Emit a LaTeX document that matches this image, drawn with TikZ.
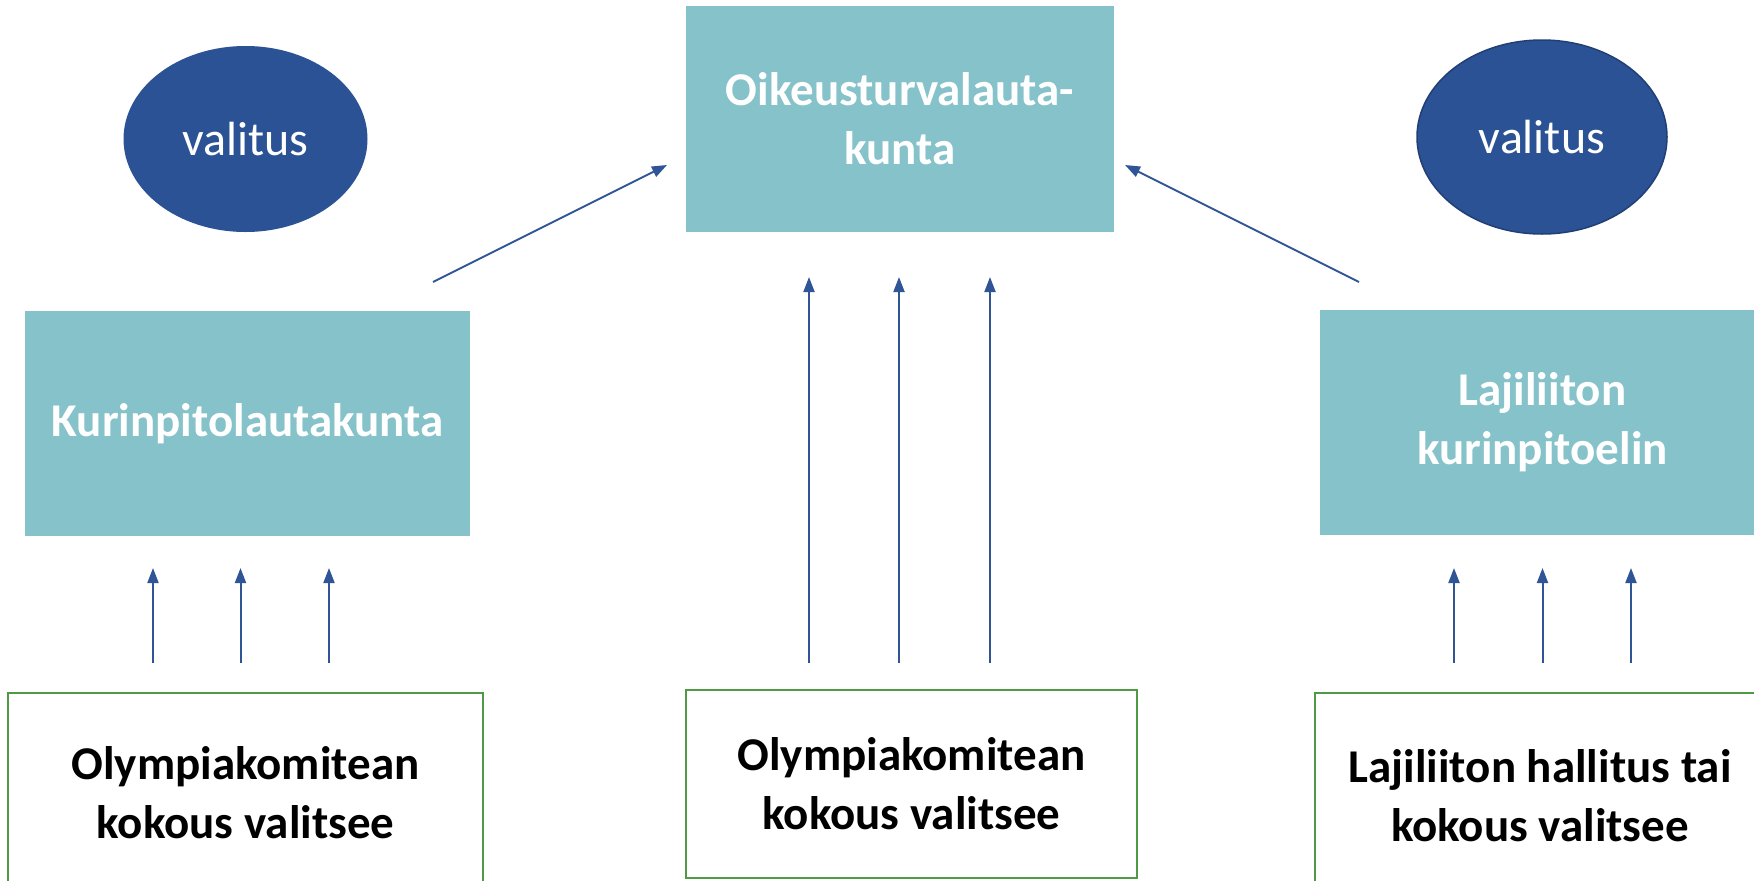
\documentclass[tikz,border=0pt]{standalone}
\usepackage{fontspec}
\setmainfont{Carlito}
\usetikzlibrary{arrows.meta,shapes.geometric}
\definecolor{darkblue}{HTML}{2A5294}
\definecolor{ellborder}{HTML}{213F74}
\definecolor{tealbox}{HTML}{86C2C9}
\definecolor{greenline}{HTML}{4E9A45}
\definecolor{arrowblue}{HTML}{2F5597}
\tikzset{
  organ/.style={rectangle, fill=tealbox, draw=none, inner sep=0pt, text=white, font=\fontsize{47}{59}\selectfont\bfseries, align=center},
  appeal/.style={ellipse, fill=darkblue, inner sep=0pt, text=white, font=\fontsize{48}{58}\selectfont},
  elector/.style={rectangle, draw=greenline, line width=2pt, fill=white, inner sep=0pt, font=\fontsize{47}{59}\selectfont\bfseries, align=center},
  conn/.style={draw=arrowblue, line width=2pt, -{Triangle[length=15pt,width=11pt]}}
}
\begin{document}
\begin{tikzpicture}[x=1pt,y=-1pt]
\useasboundingbox (0,0) rectangle (1754,881);
\clip (0,0) rectangle (1754,881);
% ellipses
\node[appeal, minimum width=244pt, minimum height=186pt] (vl) at (245.5,139) {\raisebox{-3pt}{valitus}};
\node[appeal, draw=ellborder, line width=1.5pt, minimum width=250pt, minimum height=194pt] (vr) at (1542,137) {\raisebox{-3pt}{valitus}};
% organ boxes
\node[organ, minimum width=428pt, minimum height=226pt] (otv) at (900,118.5) {Oikeusturvalauta-\\kunta};
\node[organ, minimum width=445pt, minimum height=225pt] (kpl) at (247.5,423.5) {Kurinpitolautakunta};
\node[organ, minimum width=445pt, minimum height=225pt] (lke) at (1542.5,422.5) {Lajiliiton\\kurinpitoelin};
% elector boxes
\node[elector, minimum width=475pt, minimum height=200pt] (ol) at (245.5,793) {Olympiakomitean\\kokous valitsee};
\node[elector, minimum width=451pt, minimum height=188pt] (oc) at (911.5,784) {Olympiakomitean\\kokous valitsee};
\node[elector, minimum width=450pt, minimum height=206pt] (lr) at (1540,796) {Lajiliiton hallitus tai\\kokous valitsee};
% arrow anchor coordinates
\coordinate (l1s) at (153,663); \coordinate (l1e) at (153,568);
\coordinate (l2s) at (240.5,663); \coordinate (l2e) at (240.5,568);
\coordinate (l3s) at (329,663); \coordinate (l3e) at (329,568);
\coordinate (c1s) at (809,663); \coordinate (c1e) at (809,277);
\coordinate (c2s) at (899,663); \coordinate (c2e) at (899,277);
\coordinate (c3s) at (990,663); \coordinate (c3e) at (990,277);
\coordinate (r1s) at (1454,663); \coordinate (r1e) at (1454,568);
\coordinate (r2s) at (1542.5,663); \coordinate (r2e) at (1542.5,568);
\coordinate (r3s) at (1631,663); \coordinate (r3e) at (1631,568);
\coordinate (dls) at (433,282); \coordinate (dle) at (667,165);
\coordinate (drs) at (1359,282); \coordinate (dre) at (1125,165);
\draw[conn] (l1s) -- (l1e);
\draw[conn] (l2s) -- (l2e);
\draw[conn] (l3s) -- (l3e);
\draw[conn] (c1s) -- (c1e);
\draw[conn] (c2s) -- (c2e);
\draw[conn] (c3s) -- (c3e);
\draw[conn] (r1s) -- (r1e);
\draw[conn] (r2s) -- (r2e);
\draw[conn] (r3s) -- (r3e);
\draw[conn] (dls) -- (dle);
\draw[conn] (drs) -- (dre);
\end{tikzpicture}
\end{document}
